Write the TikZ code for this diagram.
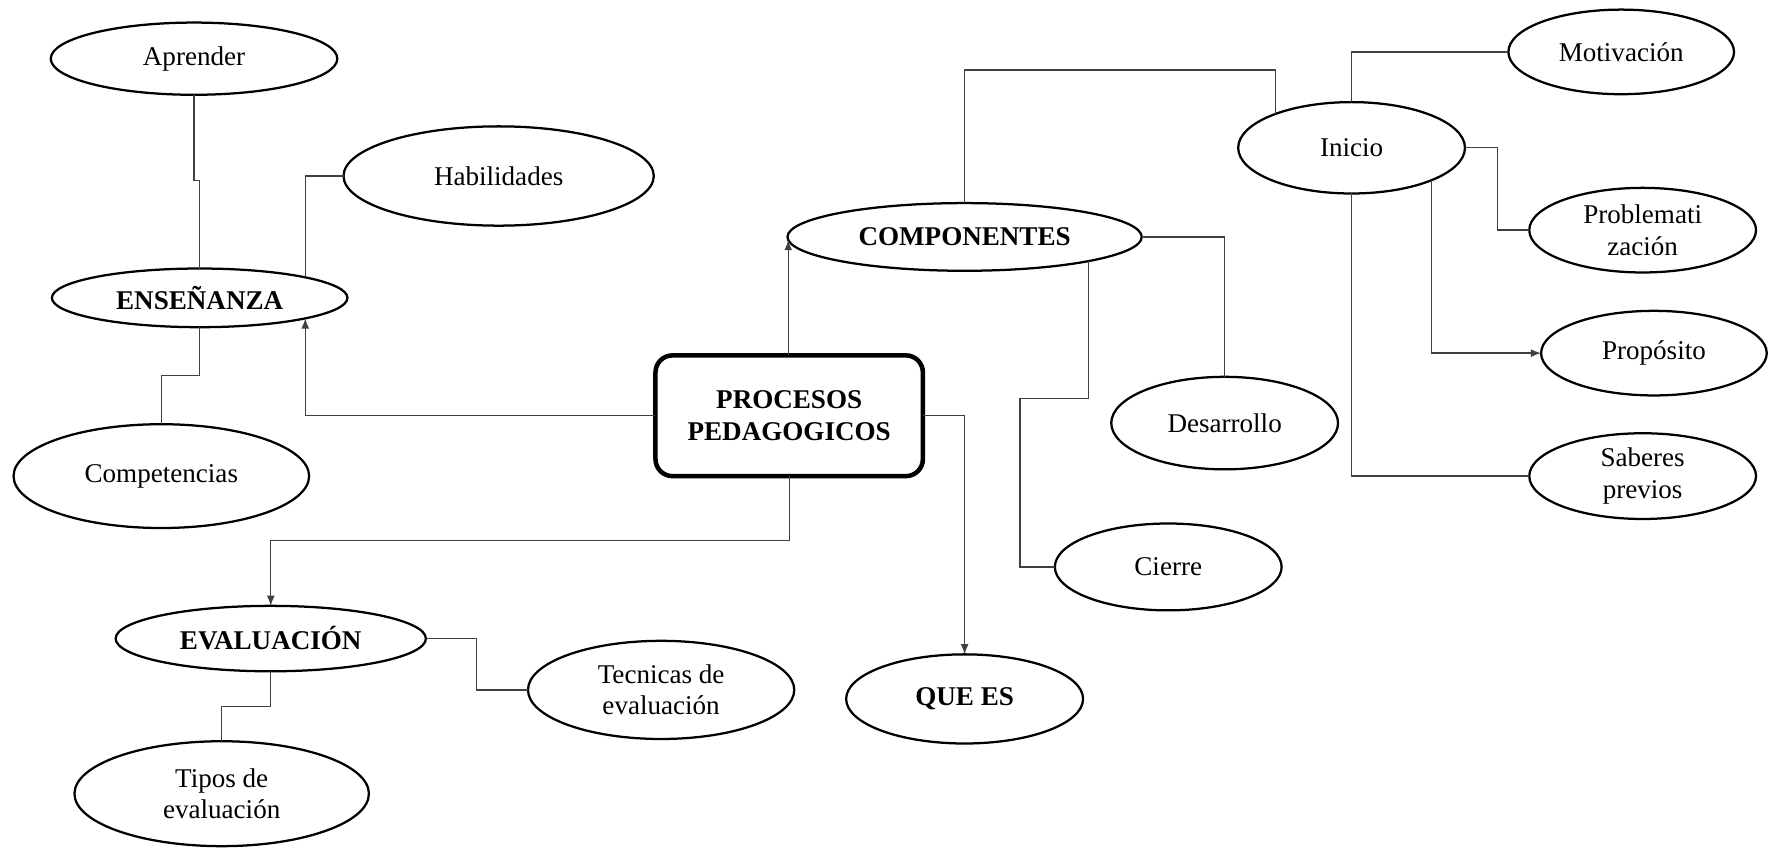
\documentclass[tikz,border=0pt]{standalone}
\usepackage{fontspec}
\setmainfont{Liberation Serif}
\usetikzlibrary{shapes.geometric,arrows.meta}
\begin{document}
\begin{tikzpicture}[x=0.5pt,y=-0.5pt,
  ell/.style={ellipse,draw,line width=1pt,inner sep=0pt,outer sep=0pt,align=center,font=\fontsize{12}{14}\selectfont},
  bell/.style={ell,font=\fontsize{12}{14}\selectfont\bfseries},
  conn/.style={draw=black!75,line width=0.6pt},
  arr/.style={conn,-{Latex[length=4.5pt,width=3.5pt]}}]
\useasboundingbox (0,0) rectangle (1568,752);
% nodes
\node[ell,minimum width=127pt,minimum height=32pt] (ap) at (172,52) {Aprender};
\node[ell,minimum width=137.5pt,minimum height=44pt] (hab) at (442,156) {Habilidades};
\node[bell,minimum width=131pt,minimum height=26pt] (ens) at (177,264) {ENSEÑANZA};
\node[ell,minimum width=131pt,minimum height=46pt] (comp) at (143,422) {Competencias};
\node[draw,line width=2pt,rounded corners=7.5pt,minimum width=118.5pt,minimum height=53.5pt,inner sep=0pt,outer sep=0pt,align=center,font=\fontsize{12}{14}\selectfont\bfseries] (proc) at (699.5,368.5) {PROCESOS\\PEDAGOGICOS};
\node[bell,minimum width=157pt,minimum height=30pt] (cmp) at (855,210) {COMPONENTES};
\node[ell,minimum width=100.5pt,minimum height=40.5pt] (ini) at (1198,131) {Inicio};
\node[ell,minimum width=100pt,minimum height=37.5pt] (mot) at (1437,46) {Motivación};
\node[ell,minimum width=100.5pt,minimum height=37.5pt] (prob) at (1456,204) {Problemati\\zación};
\node[ell,minimum width=100pt,minimum height=37.5pt] (prop) at (1466,313) {Propósito};
\node[ell,minimum width=100.5pt,minimum height=38pt] (sab) at (1456,422) {Saberes\\previos};
\node[ell,minimum width=100.5pt,minimum height=41pt] (des) at (1085.5,375) {Desarrollo};
\node[ell,minimum width=100.5pt,minimum height=38.5pt] (cie) at (1035.5,502.5) {Cierre};
\node[bell,minimum width=105pt,minimum height=39.5pt] (que) at (855,619.5) {QUE ES};
\node[bell,minimum width=137.5pt,minimum height=29pt] (eval) at (240,566) {EVALUACIÓN};
\node[ell,minimum width=118pt,minimum height=43.5pt] (tec) at (586,611.5) {Tecnicas de\\evaluación};
\node[ell,minimum width=130.5pt,minimum height=46.5pt] (tip) at (196.5,703.5) {Tipos de\\evaluación};
% connectors
\draw[conn] (ap.south) -- ++(0,76) -| (ens.north);
\draw[conn] (ens.11.4) |- (hab.west);
\draw[conn] (ens.south) -- ++(0,43) -| (comp.north);
\draw[arr] (proc.west) -| (ens.-11.4);
\draw[arr] (cmp.181.8 |- proc.north) -- (cmp.181.8);
\draw[arr] (proc.south) -- ++(0,57) -| (eval.north);
\draw[arr] (proc.east) -| (que.north);
\draw[conn] (cmp.north) -- ++(0,-118) -| (ini.156.9);
\draw[conn] (cmp.east) -| (des.north);
\draw[conn] (cmp.-11.3) -- ++(0,122) -- ++(-61,0) |- (cie.west);
\draw[conn] (ini.north) |- (mot.west);
\draw[conn] (ini.east) -- ++(29,0) |- (prob.west);
\draw[arr] (ini.-22) |- (prop.west);
\draw[conn] (ini.south) |- (sab.west);
\draw[conn] (eval.east) -- ++(45,0) |- (tec.west);
\draw[conn] (eval.south) -- ++(0,31) -| (tip.north);
\end{tikzpicture}
\end{document}
